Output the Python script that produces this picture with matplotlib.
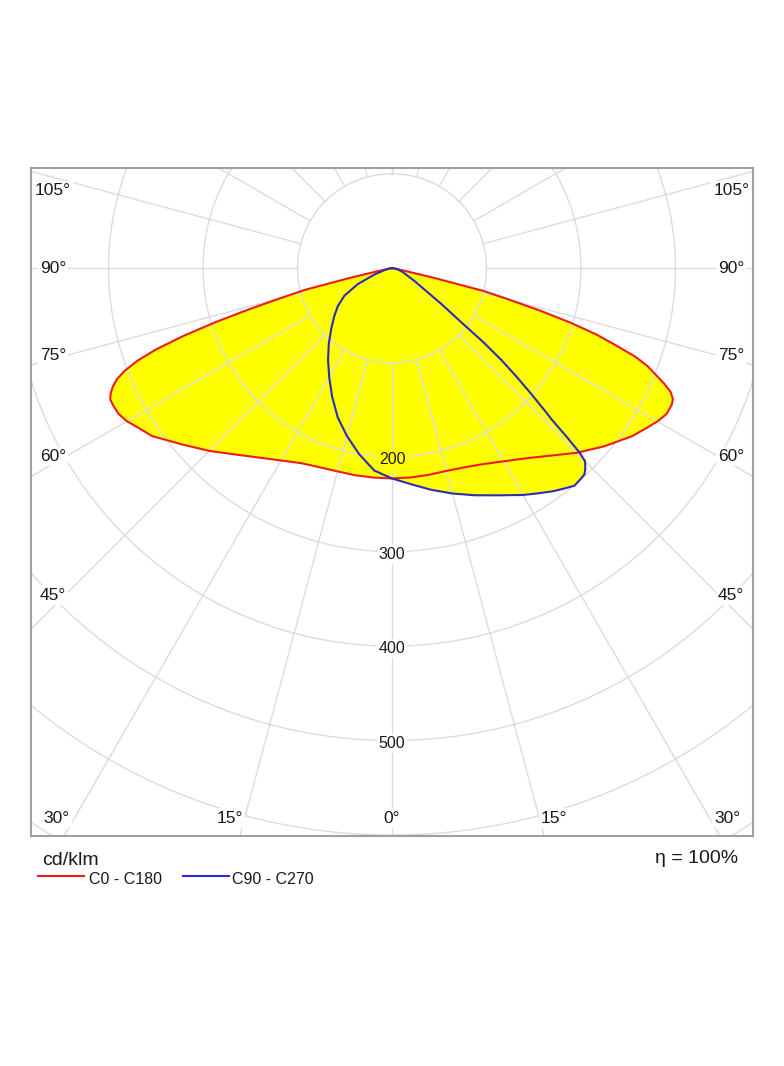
import numpy as np
import matplotlib
matplotlib.use("Agg")
import matplotlib.pyplot as plt
from matplotlib.path import Path
from matplotlib.lines import Line2D

# --------------------
# Luminous intensity (cd/klm)
# gamma = 0 points straight down, 90 is horizontal
# --------------------
gamma_c0 = [0, 5, 10, 15, 20, 25, 30, 35, 40, 45, 50, 55, 57.5, 60, 62, 64, 65, 66,
            67, 68, 69, 70, 71, 72, 73, 74, 75, 76, 77, 78, 80, 85, 90]
cd_c0 = [222.6, 222.4, 222.2, 222.2, 224.3, 228.8, 236.1, 245.8, 259.2, 276.4, 293.3, 310.1,
         317, 324.4, 329, 329.5, 328, 323, 313, 301, 290, 274, 250, 228, 198, 163, 127,
         100, 45, 15, 5, 1, 0]

gamma_c180 = [0, 5, 10, 15, 20, 25, 30, 35, 40, 45, 50, 55, 58, 60, 62, 64, 65, 66,
              67, 68, 69, 70, 71, 72, 73, 74, 75, 76, 77, 78, 80, 85, 90]
cd_c180 = [222.6, 222.5, 222.6, 222.7, 224.2, 227.7, 235, 244.8, 257.5, 273.5, 290.2, 309.9,
           317.7, 324, 328, 329, 329, 326, 321, 314, 303, 287, 264, 232, 195, 155, 120,
           95, 45, 15, 5, 1, 0]

gamma_c90 = [0, 5, 10, 15, 20, 25, 30, 33, 36, 38, 40, 42, 43, 44, 45, 45.5, 46, 46.5,
             47, 48, 49, 50, 51, 52, 54, 56, 60, 65, 70, 75, 80, 85, 90]
cd_c90 = [222.6, 229.5, 238.2, 246.9, 255.8, 265.3, 277.2, 284.2, 291.6, 296, 300.5, 299.3,
          298.6, 294.6, 289, 277.8, 257, 234, 221, 196.4, 173, 150.6, 124, 92.7, 65, 45,
          28, 17, 12, 8, 5, 2, 0]

gamma_c270 = [0, 5, 10, 15, 20, 25, 30, 35, 40, 45, 50, 55, 60, 65, 70, 75, 80, 85, 90]
cd_c270 = [222.6, 215, 200, 184, 168, 150, 133, 118, 104, 91, 80, 70, 58, 40, 20, 9, 4, 1, 0]

ring_values = [100, 200, 300, 400, 500, 600, 700]
ring_labels = [200, 300, 400, 500]
side_angles = [105, 90, 75, 60, 45]
bottom_angles = [30, 15, 0]
eta_text = "\u03b7 = 100%"

RED = "#ec1c1c"
BLUE = "#2d2db4"
BLUE_KEY = "#2a2ae0"
GRID = "#dcdcdc"
TXT = "#1a1a1a"
FONT = ["Liberation Sans", "DejaVu Sans"]


def to_xy(gamma, cd, side):
    g = np.radians(np.asarray(gamma, dtype=float))
    cd = np.asarray(cd, dtype=float)
    return side * cd * np.sin(g), -cd * np.cos(g)


W, H = 784, 1066
fig = plt.figure(figsize=(W / 100, H / 100), dpi=100)
ax = fig.add_axes([31 / W, 1 - 836 / H, 722 / W, 668 / H])
ax.set_xlim(-382, 382)
ax.set_ylim(-601, 106)
ax.set_aspect("equal")
ax.set_xticks([])
ax.set_yticks([])
for s in ax.spines.values():
    s.set_color("#a0a0a0")
    s.set_linewidth(1.5)

# --------------------
# Curves: C0-C180 (left = C180) and C90-C270 (left = C270)
# --------------------
lx, ly = to_xy(gamma_c180, cd_c180, -1)
rx, ry = to_xy(gamma_c0, cd_c0, 1)
red_x = np.concatenate([lx[::-1], rx])
red_y = np.concatenate([ly[::-1], ry])

lx, ly = to_xy(gamma_c270, cd_c270, -1)
rx, ry = to_xy(gamma_c90, cd_c90, 1)
blue_x = np.concatenate([lx[::-1], rx])
blue_y = np.concatenate([ly[::-1], ry])

ax.fill(red_x, red_y, color="#ffff00", lw=0, zorder=1)
ax.fill(blue_x, blue_y, color="#ffff00", lw=0, zorder=1)

# --------------------
# Polar grid
# --------------------
t = np.linspace(0, 2 * np.pi, 720)
for r in ring_values:
    ax.plot(r * np.cos(t), r * np.sin(t), color=GRID, lw=1, zorder=2)
for a in range(-180, 181, 15):
    ar = np.radians(a)
    ax.plot([100 * np.sin(ar), 1000 * np.sin(ar)],
            [-100 * np.cos(ar), -1000 * np.cos(ar)], color=GRID, lw=1, zorder=2)

ax.plot(red_x, red_y, color=RED, lw=1.5, zorder=4, solid_joinstyle="round")
ax.plot(blue_x, blue_y, color=BLUE, lw=1.5, zorder=5, solid_joinstyle="round")

# ring value labels on the 0 deg axis
red_path = Path(np.column_stack([red_x, red_y]))
blue_path = Path(np.column_stack([blue_x, blue_y]))
for r in ring_labels:
    pt = (0, -r - 3)
    inside = red_path.contains_point(pt) or blue_path.contains_point(pt)
    ax.text(pt[0], pt[1], str(r), ha="center", va="center", fontsize=11.5,
            family=FONT, color=TXT, zorder=6,
            bbox=dict(facecolor="#ffff00" if inside else "white", edgecolor="none", pad=1.5))

# angle labels
for a in side_angles:
    y = min(-346 / np.tan(np.radians(a)), 82)
    for side in (-1, 1):
        ax.text(side * 359, y, f"{a}\u00b0", ha="center", va="center", fontsize=12.5,
                family=FONT, color=TXT, zorder=6,
                bbox=dict(facecolor="white", edgecolor="none", pad=1.5))
for a in bottom_angles:
    x = min(640 * np.tan(np.radians(a)), 355)
    for side in ((-1, 1) if a else (1,)):
        ax.text(side * x, -582, f"{a}\u00b0", ha="center", va="center", fontsize=12.5,
                family=FONT, color=TXT, zorder=6,
                bbox=dict(facecolor="white", edgecolor="none", pad=1.5))

# --------------------
# Footer: unit, legend, efficiency
# --------------------
fig.text(42 / W, 1 - 865 / H, "cd/klm", ha="left", va="baseline", fontsize=14,
         family=FONT, color=TXT)
fig.text(738 / W, 1 - 863 / H, eta_text, ha="right", va="baseline", fontsize=14,
         family=FONT, color=TXT)

fig.add_artist(Line2D([38 / W, 84 / W], [1 - 876 / H] * 2, color=RED, lw=1.5,
                      transform=fig.transFigure))
fig.text(89 / W, 1 - 884 / H, "C0 - C180", ha="left", va="baseline", fontsize=11.5,
         family=FONT, color=TXT)
fig.add_artist(Line2D([183 / W, 229 / W], [1 - 876 / H] * 2, color=BLUE_KEY, lw=1.5,
                      transform=fig.transFigure))
fig.text(232 / W, 1 - 884 / H, "C90 - C270", ha="left", va="baseline", fontsize=11.5,
         family=FONT, color=TXT)

fig.savefig("out.png", dpi=100, facecolor="white")
